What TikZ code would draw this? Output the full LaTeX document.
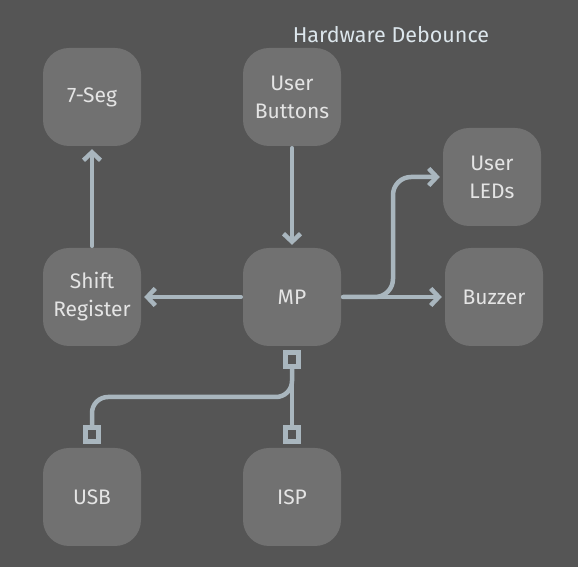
\documentclass[tikz,border=0pt]{standalone}
\usepackage{fontspec}
\setmainfont{Fira Sans}
\usetikzlibrary{positioning,calc,arrows.meta}
\definecolor{bgcol}{HTML}{555555}
\definecolor{boxcol}{HTML}{717171}
\definecolor{wirecol}{HTML}{A9B6BE}
\definecolor{txtcol}{HTML}{E4E4E4}
\definecolor{notecol}{HTML}{DCE6EC}
\begin{document}
\begin{tikzpicture}[x=1pt,y=1pt,
    block/.style={fill=boxcol,rounded corners=26pt,minimum size=98pt,inner sep=0pt,
      align=center,text=txtcol,font=\fontsize{21}{28}\selectfont},
    wire/.style={draw=wirecol,line width=4.5pt,line cap=round,line join=round},
    flow/.style={wire,-{Straight Barb[length=8pt,width=17pt]},shorten >=3pt,shorten <=2pt},
    port/.style={draw=wirecol,line width=5pt,fill=bgcol,minimum size=13.5pt,inner sep=0pt}]%
     \fill[bgcol] (0,0) rectangle (578,567);
     \useasboundingbox (0,0) rectangle (578,567);

     \node[block] at (92,470) (seg) {7-Seg};
     \node[block] at (292,470) (btn) {User\\Buttons};
     \node[block] at (492,390) (led) {User\\LEDs};
     \node[block] at (92,270) (shift) {Shift\\Register};
     \node[block] at (292,270) (mp) {MP};
     \node[block] at (494,270) (buz) {Buzzer};
     \node[block] at (92,70) (usb) {USB};
     \node[block] at (292,70) (isp) {ISP};

     \node[text=notecol,font=\fontsize{21.5}{26}\selectfont] at (391,532) (deb) {Hardware Debounce};

      % arrows
      \draw[flow] (btn) -- (mp);
      \draw[flow] (shift) -- (seg);
      \draw[flow] (mp) -- (shift);
      \draw[flow] (mp) -- (buz);
      \coordinate (split) at ($(mp.east)!0.5!(buz.west)$);
      \draw[flow,rounded corners=18pt] (mp.east) -- (split) |- (led.west);

      % programming / usb ports
      \node[port,below=4pt of mp] (mpport) {};
      \node[port,above=4pt of isp] (ispport) {};
      \node[port,above=4pt of usb] (usbport) {};
      \coordinate (tap) at ($(mpport)!0.5!(ispport)$);
      \draw[wire] (mpport) -- (ispport);
      \draw[wire,rounded corners=16pt] (mpport.south) -- (tap) -| (usbport.north);
\end{tikzpicture}
\end{document}
